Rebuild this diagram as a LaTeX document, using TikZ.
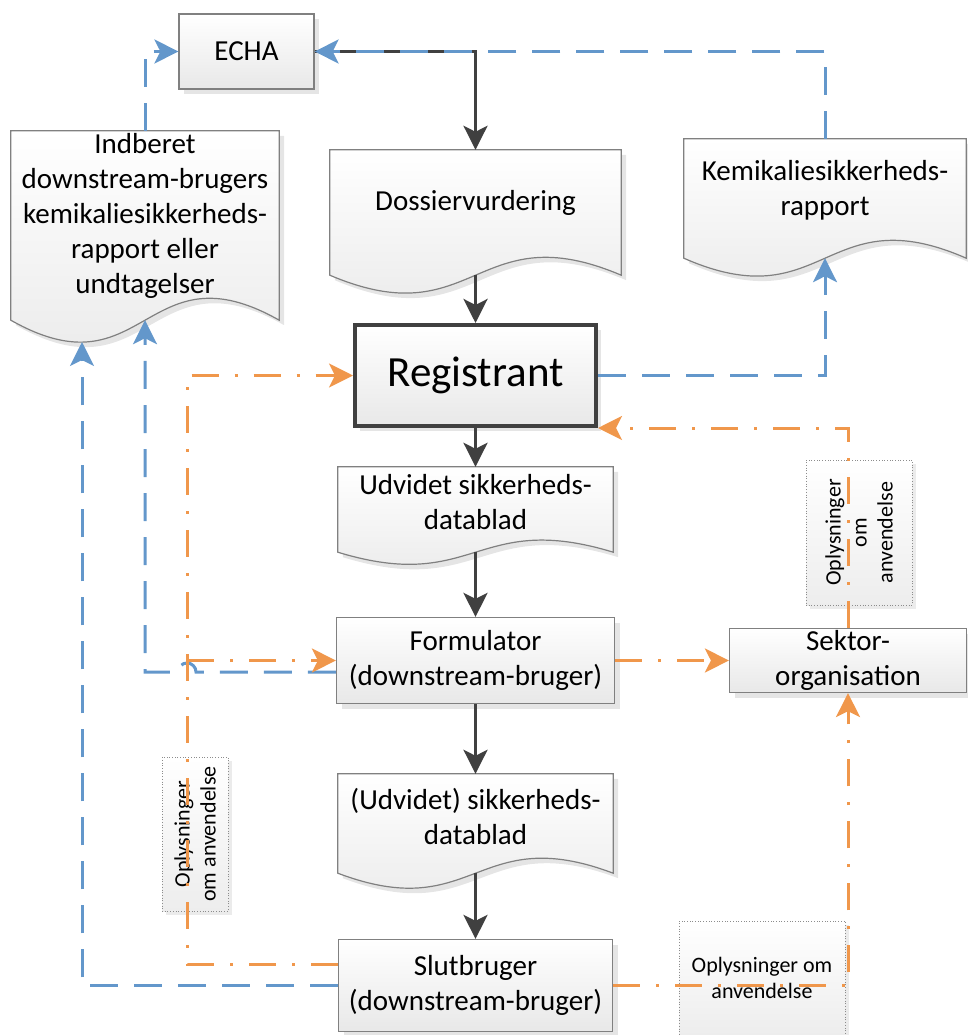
\documentclass[tikz,border=0pt]{standalone}
\usepackage{fontspec}
\setmainfont{Carlito}
\usetikzlibrary{arrows.meta,calc,shadows}

\definecolor{flowblue}{RGB}{99,151,203}
\definecolor{floworange}{RGB}{240,151,75}
\definecolor{flowdark}{RGB}{64,64,64}
\definecolor{boxedge}{RGB}{128,128,128}

\newcommand\flowfont{\fontsize{29pt}{35pt}\selectfont}
\newcommand\flowbigfont{\fontsize{43pt}{50pt}\selectfont}
\newcommand\flownotefont{\fontsize{22pt}{26pt}\selectfont}

% document symbol: straight top and sides, wavy bottom edge
\newcommand\docshape[2]{%
  \path[shade box] (#1.south west) -- (#1.north west) -- (#1.north east) -- (#1.south east)
    .. controls ($(#1.south)+(0,-#2)$) and ($(#1.south)+(0,#2)$) .. (#1.south west) -- cycle;}

\tikzset{
  shade box/.style={top color=white, bottom color=black!9, draw=boxedge, line width=1.2pt,
    drop shadow={shadow xshift=5pt, shadow yshift=-5pt, fill=black, opacity=0.1}},
  procbox/.style={shade box, rectangle, inner sep=0pt, align=center, font=\flowfont},
  docarea/.style={rectangle, inner sep=0pt, draw=none},
  doctext/.style={align=center, font=\flowfont, inner sep=0pt},
  notebox/.style={rectangle, inner sep=0pt, top color=white, bottom color=black!7,
    draw=black!45, dotted, line width=0.7pt,
    drop shadow={shadow xshift=4pt, shadow yshift=-4pt, fill=black, opacity=0.08}},
  notetext/.style={align=center, font=\flownotefont, inner sep=0pt},
  tip/.style={-{Stealth[length=24pt,width=24pt,inset=6pt]}},
  mainlink/.style={draw=flowdark, line width=3.5pt, tip},
  bluelink/.style={draw=flowblue, line width=3pt, dash pattern=on 28pt off 16pt, tip},
  orangelink/.style={draw=floworange, line width=3pt, dash pattern=on 27pt off 16pt on 3pt off 16pt, tip},
}

\begin{document}
\begin{tikzpicture}[x=1pt,y=-1pt]
\useasboundingbox (0,0) rectangle (968,1035);

% process boxes
\node[procbox, minimum width=135pt, minimum height=75pt] (echa) at (246.5,51.5) {ECHA};
\node[procbox, draw=flowdark, line width=4pt, minimum width=241pt, minimum height=101pt,
      font=\flowbigfont] (reg) at (475.5,375.5) {Registrant};
\node[procbox, minimum width=278pt, minimum height=86pt] (form) at (475.5,660.5)
      {Formulator\\(downstream-bruger)};
\node[procbox, minimum width=237pt, minimum height=64pt] (sektor) at (848,660.5)
      {Sektor-\\organisation};
\node[procbox, minimum width=274pt, minimum height=92pt] (slut) at (475.5,985.5)
      {Slutbruger\\(downstream-bruger)};

% document symbols
\node[docarea, minimum width=291pt, minimum height=125pt] (dossier) at (475.5,212.5) {};
\node[docarea, minimum width=268pt, minimum height=189pt] (ind) at (145,225.5) {};
\node[docarea, minimum width=282pt, minimum height=119pt] (kemi) at (825,198.5) {};
\node[docarea, minimum width=275pt, minimum height=85pt] (udv1) at (475.5,509.5) {};
\node[docarea, minimum width=275pt, minimum height=99pt] (udv2) at (475.5,823.5) {};
\docshape{dossier}{62}
\docshape{ind}{76}
\docshape{kemi}{62}
\docshape{udv1}{42}
\docshape{udv2}{52}
\node[doctext] (dossier-text) at ([yshift=10pt]dossier.center) {Dossiervurdering};
\node[doctext] (ind-text) at ([yshift=10pt]ind.center)
      {Indberet\\downstream-brugers\\kemikaliesikkerheds-\\rapport eller\\undtagelser};
\node[doctext] (kemi-text) at ([yshift=8pt]kemi.center) {Kemikaliesikkerheds-\\rapport};
\node[doctext] (udv1-text) at ([yshift=7pt]udv1.center) {Udvidet sikkerheds-\\datablad};
\node[doctext] (udv2-text) at ([yshift=7pt]udv2.center) {(Udvidet) sikkerheds-\\datablad};

% notes on the information flows
\node[notebox, minimum width=106pt, minimum height=145pt] (note-sektor) at (859,532.5) {};
\node[notetext, rotate=90] (note-sektor-text) at (note-sektor.center) {Oplysninger\\om\\anvendelse};
\node[notebox, minimum width=66pt, minimum height=154pt] (note-slut) at (195,834) {};
\node[notetext, rotate=90] (note-slut-text) at (note-slut.center) {Oplysninger\\om anvendelse};
\node[notebox, minimum width=166pt, minimum height=114pt] (note-bottom) at (762,978) {};
\node[notetext] (note-bottom-text) at (note-bottom.center) {Oplysninger om\\anvendelse};

% helper points
\coordinate (rail) at (187,0);
\coordinate (indtrough) at (82,342);
\coordinate (formblue) at ([yshift=-11.5pt]form.west);
\coordinate (slutorange) at ([yshift=21.5pt]slut.west);

% main chain
\draw[mainlink] (echa.east) -- (echa.east -| dossier.north) -- (dossier.north);
\draw[mainlink] (dossier.south) -- (reg.north);
\draw[mainlink] (reg.south) -- (udv1.north);
\draw[mainlink] (udv1.south) -- (form.north);
\draw[mainlink] (form.south) -- (udv2.north);
\draw[mainlink] (udv2.south) -- (slut.north);

% reports (blue)
\draw[bluelink] (reg.east) -- (reg.east -| kemi.south) -- (kemi.south);
\draw[bluelink] (kemi.north) -- (kemi.north |- echa.east) -- (echa.east);
\draw[bluelink] (ind.north) -- (ind.north |- echa.west) -- (echa.west);
\draw[bluelink] (formblue) -- ([xshift=9pt]formblue -| rail)
      arc[start angle=0, end angle=180, radius=9pt]
      -- (formblue -| ind.south) -- (ind.south);
\draw[bluelink] (slut.west) -- (slut.west -| indtrough) -- (indtrough);

% use information (orange)
\draw[orangelink] (slutorange) -- (slutorange -| rail) -- (rail |- reg.west) -- (reg.west);
\draw[orangelink] (rail |- form.west) -- (form.west);
\draw[orangelink] (form.east) -- (sektor.west);
\draw[orangelink] (sektor.north) -- (sektor.north |- reg.south east) -- (reg.south east);
\draw[orangelink] (slut.east) -- (slut.east -| sektor.south) -- (sektor.south);
\end{tikzpicture}
\end{document}
